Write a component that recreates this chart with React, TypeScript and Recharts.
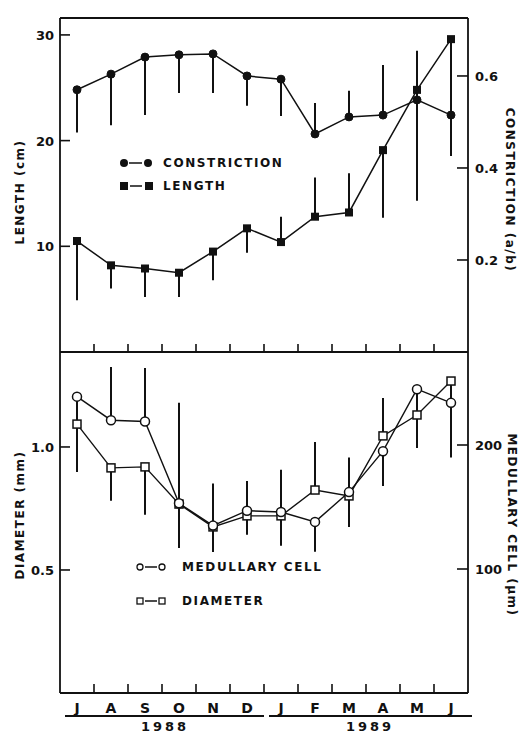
import React from 'react'
import { LineChart, Line, XAxis, YAxis, ErrorBar, ReferenceLine } from 'recharts'

// months Jul 1988 .. Jun 1989
const months = ['J', 'A', 'S', 'O', 'N', 'D', 'J', 'F', 'M', 'A', 'M', 'J']

// top panel
const constriction = [0.57, 0.604, 0.641, 0.646, 0.648, 0.6, 0.593, 0.474, 0.511, 0.515, 0.548, 0.515]
const constrictionErr = [[0.093, 0], [0.111, 0], [0.126, 0], [0.083, 0], [0.085, 0], [0.065, 0], [0.08, 0], [0, 0.067], [0, 0.057], [0, 0.109], [0, 0.107], [0.089, 0]]
const lengthCm = [10.5, 8.2, 7.9, 7.5, 9.5, 11.7, 10.4, 12.8, 13.2, 19.1, 24.8, 29.6]
const lengthErr = [[5.6, 0], [2.2, 0], [2.7, 0], [2.3, 0], [2.7, 0], [2.3, 0], [0, 2.4], [0, 3.7], [0, 3.7], [6.4, 0], [10.5, 0], [8.8, 0]]

// bottom panel
const medullary = [239, 220, 219, 153, 135, 147, 146, 138, 162, 195, 245, 234]
const medullaryErr = [[52, 0], [0, 43], [0, 43], [0, 81], [0, 34], [0, 24], [0, 34], [24, 0], [0, 28], [28, 0], [31, 0], [44, 0]]
const diameter = [1.093, 0.915, 0.919, 0.768, 0.675, 0.72, 0.72, 0.825, 0.801, 1.045, 1.13, 1.268]
const diameterErr = [[0.195, 0], [0.134, 0], [0.195, 0], [0.179, 0], [0.102, 0], [0.077, 0], [0.122, 0], [0, 0.195], [0.126, 0], [0, 0.154], [0.134, 0], [0.138, 0]]

const lengthTicks = [10, 20, 30]
const constrictionTicks = [0.2, 0.4, 0.6]
const diameterTicks = [0.5, 1.0]
const medullaryTicks = [100, 200]
const years = ['1988', '1989']

const data = months.map((m, i) => ({
  x: i + 0.5,
  month: m,
  constriction: constriction[i],
  constrictionErr: constrictionErr[i],
  length: lengthCm[i],
  lengthErr: lengthErr[i],
  medullary: medullary[i],
  medullaryErr: medullaryErr[i],
  diameter: diameter[i],
  diameterErr: diameterErr[i],
}))

const FONT = '"DejaVu Sans", Arial, sans-serif'
const INK = '#111'

const boundaryTicks = [1, 2, 3, 4, 5, 6, 7, 8, 9, 10, 11]
const bottomTicks = [0, ...months.map((_, i) => i + 0.5), ...boundaryTicks]

const LeftTick = (fmt: (v: number) => string) => (p: any) => (
  <g>
    <line x1={p.x + 6} x2={p.x + 16} y1={p.y} y2={p.y} stroke={INK} strokeWidth={1.6} />
    <text x={p.x} y={p.y} dy={5} textAnchor="end" fontFamily={FONT} fontWeight="bold" fontSize={13} fill={INK}>
      {fmt(p.payload.value)}
    </text>
  </g>
)

const RightTick = (fmt: (v: number) => string) => (p: any) => (
  <g>
    <line x1={p.x - 7} x2={p.x - 18} y1={p.y} y2={p.y} stroke={INK} strokeWidth={1.6} />
    <text x={p.x} y={p.y} dy={5} textAnchor="start" fontFamily={FONT} fontWeight="bold" fontSize={13} fill={INK}>
      {fmt(p.payload.value)}
    </text>
  </g>
)

const MonthTick = (p: any) => {
  const v = p.payload.value
  if (Number.isInteger(v)) {
    if (v === 0) return <g />
    return <line x1={p.x} x2={p.x} y1={p.y} y2={p.y - 9} stroke={INK} strokeWidth={1.6} />
  }
  return (
    <text x={p.x} y={p.y + 20} textAnchor="middle" fontFamily={FONT} fontWeight="bold" fontSize={14} fill={INK}>
      {months[Math.floor(v)]}
    </text>
  )
}

const UpTick = (p: any) => (
  <line x1={p.x} x2={p.x} y1={p.y} y2={p.y - 8} stroke={INK} strokeWidth={1.6} />
)

const filledSquare = (p: any) => (
  <rect key={p.index} x={p.cx - 4} y={p.cy - 4} width={8} height={8} fill={INK} />
)
const openSquare = (p: any) => (
  <rect key={p.index} x={p.cx - 4} y={p.cy - 4} width={8} height={8} fill="#fff" stroke={INK} strokeWidth={1.5} />
)

const titleStyle = (left: number, top: number, rot: number): React.CSSProperties => ({
  position: 'absolute',
  left,
  top,
  transform: `translate(-50%, -50%) rotate(${rot}deg)`,
  whiteSpace: 'nowrap',
  fontFamily: FONT,
  fontWeight: 'bold',
  fontSize: 12,
  letterSpacing: 1.5,
  color: INK,
})

const legendRow = (top: number, left: number, textLeft: number, symbol: React.ReactNode, label: string) => (
  <div style={{ position: 'absolute', top: top - 9, left, height: 18, display: 'flex', alignItems: 'center' }}>
    <svg width={textLeft - left} height={18}>{symbol}</svg>
    <span style={{ fontFamily: FONT, fontWeight: 'bold', fontSize: 12, letterSpacing: 1.6, color: INK }}>{label}</span>
  </div>
)

export default function App() {
  return (
    <div style={{ position: 'absolute', left: 0, top: 0, width: 527, height: 733, background: '#fff' }}>
      {/* top panel: length + constriction */}
      <div style={{ position: 'absolute', left: 0, top: 0 }}>
        <LineChart width={527} height={353} data={data} margin={{ top: 18, right: 0, bottom: 0, left: 0 }}>
          <XAxis
            dataKey="x"
            type="number"
            domain={[0, 12]}
            ticks={boundaryTicks}
            interval={0}
            height={1}
            tickSize={0}
            tickMargin={0}
            tick={UpTick}
            axisLine={{ stroke: INK, strokeWidth: 1.8 }}
            tickLine={false}
          />
          <YAxis
            yAxisId="len"
            type="number"
            domain={[0, 31.6]}
            allowDataOverflow
            ticks={lengthTicks}
            width={60}
            tickSize={0}
            tickMargin={6}
            tickLine={false}
            tick={LeftTick((v) => String(v))}
            axisLine={{ stroke: INK, strokeWidth: 1.8 }}
          />
          <YAxis
            yAxisId="con"
            orientation="right"
            type="number"
            domain={[0, 0.726]}
            allowDataOverflow
            ticks={constrictionTicks}
            width={59}
            tickSize={0}
            tickMargin={7}
            tickLine={false}
            tick={RightTick((v) => v.toFixed(1))}
            axisLine={{ stroke: INK, strokeWidth: 1.8 }}
          />
          <ReferenceLine yAxisId="len" y={31.6} stroke={INK} strokeWidth={1.8} />
          <Line
            yAxisId="con"
            dataKey="constriction"
            type="linear"
            stroke={INK}
            strokeWidth={1.5}
            dot={{ r: 4, fill: INK, stroke: INK, strokeWidth: 1 }}
            isAnimationActive={false}
          >
            <ErrorBar dataKey="constrictionErr" direction="y" width={0} stroke={INK} strokeWidth={2} />
          </Line>
          <Line
            yAxisId="len"
            dataKey="length"
            type="linear"
            stroke={INK}
            strokeWidth={1.5}
            dot={filledSquare}
            isAnimationActive={false}
          >
            <ErrorBar dataKey="lengthErr" direction="y" width={0} stroke={INK} strokeWidth={2} />
          </Line>
        </LineChart>
      </div>

      {/* bottom panel: diameter + medullary cell */}
      <div style={{ position: 'absolute', left: 0, top: 0 }}>
        <LineChart width={527} height={733} data={data} margin={{ top: 352, right: 0, bottom: 0, left: 0 }}>
          <XAxis
            dataKey="x"
            type="number"
            domain={[0, 12]}
            ticks={bottomTicks}
            interval={0}
            height={40}
            tickSize={0}
            tickMargin={0}
            tick={MonthTick}
            axisLine={{ stroke: INK, strokeWidth: 1.8 }}
            tickLine={false}
          />
          <YAxis
            yAxisId="dia"
            type="number"
            domain={[0, 1.386]}
            allowDataOverflow
            ticks={diameterTicks}
            width={60}
            tickSize={0}
            tickMargin={6}
            tickLine={false}
            tick={LeftTick((v) => v.toFixed(1))}
            axisLine={{ stroke: INK, strokeWidth: 1.8 }}
          />
          <YAxis
            yAxisId="med"
            orientation="right"
            type="number"
            domain={[0, 275]}
            allowDataOverflow
            ticks={medullaryTicks}
            width={59}
            tickSize={0}
            tickMargin={7}
            tickLine={false}
            tick={RightTick((v) => String(v))}
            axisLine={{ stroke: INK, strokeWidth: 1.8 }}
          />
          <Line
            yAxisId="dia"
            dataKey="diameter"
            type="linear"
            stroke={INK}
            strokeWidth={1.4}
            dot={openSquare}
            isAnimationActive={false}
          >
            <ErrorBar dataKey="diameterErr" direction="y" width={0} stroke={INK} strokeWidth={2} />
          </Line>
          <Line
            yAxisId="med"
            dataKey="medullary"
            type="linear"
            stroke={INK}
            strokeWidth={1.4}
            dot={{ r: 4.5, fill: '#fff', stroke: INK, strokeWidth: 1.5 }}
            isAnimationActive={false}
          >
            <ErrorBar dataKey="medullaryErr" direction="y" width={0} stroke={INK} strokeWidth={2} />
          </Line>
        </LineChart>
      </div>

      {/* axis titles */}
      <div style={titleStyle(20, 192, -90)}>LENGTH (cm)</div>
      <div style={titleStyle(510, 190, 90)}>CONSTRICTION (a/b)</div>
      <div style={titleStyle(20, 515, -90)}>DIAMETER (mm)</div>
      <div style={titleStyle(512, 525, 90)}>MEDULLARY CELL (µm)</div>

      {/* legends */}
      {legendRow(163, 118, 163, (
        <g>
          <circle cx={6} cy={9} r={4} fill={INK} />
          <line x1={11} x2={24} y1={9} y2={9} stroke={INK} strokeWidth={1.5} />
          <circle cx={30} cy={9} r={4} fill={INK} />
        </g>
      ), 'CONSTRICTION')}
      {legendRow(186, 118, 163, (
        <g>
          <rect x={2} y={5} width={8} height={8} fill={INK} />
          <line x1={12} x2={24} y1={9} y2={9} stroke={INK} strokeWidth={1.5} />
          <rect x={27} y={5} width={8} height={8} fill={INK} />
        </g>
      ), 'LENGTH')}
      {legendRow(567, 134, 182, (
        <g>
          <circle cx={6} cy={9} r={3} fill="#fff" stroke={INK} strokeWidth={1.3} />
          <line x1={11} x2={23} y1={9} y2={9} stroke={INK} strokeWidth={1.5} />
          <circle cx={28} cy={9} r={3} fill="#fff" stroke={INK} strokeWidth={1.3} />
        </g>
      ), 'MEDULLARY CELL')}
      {legendRow(601, 134, 182, (
        <g>
          <rect x={3} y={6} width={6} height={6} fill="#fff" stroke={INK} strokeWidth={1.3} />
          <line x1={11} x2={23} y1={9} y2={9} stroke={INK} strokeWidth={1.5} />
          <rect x={25} y={6} width={6} height={6} fill="#fff" stroke={INK} strokeWidth={1.3} />
        </g>
      ), 'DIAMETER')}

      {/* year underlines */}
      <div style={{ position: 'absolute', left: 65, top: 715, width: 199, height: 2, background: INK }} />
      <div style={{ position: 'absolute', left: 269, top: 715, width: 203, height: 2, background: INK }} />
      {years.map((y, i) => (
        <div
          key={y}
          style={{
            position: 'absolute',
            left: i === 0 ? 165 : 370,
            top: 726,
            transform: 'translate(-50%, -50%)',
            fontFamily: FONT,
            fontWeight: 'bold',
            fontSize: 13,
            letterSpacing: 3,
            color: INK,
          }}
        >
          {y}
        </div>
      ))}
    </div>
  )
}
